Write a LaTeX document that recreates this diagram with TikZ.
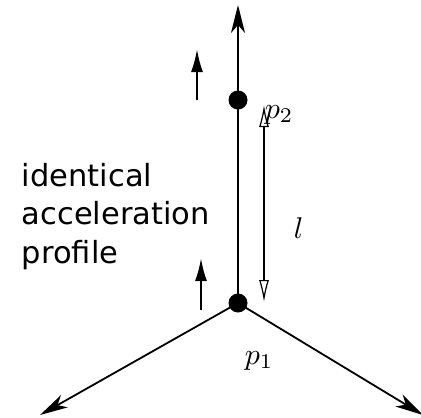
\documentclass[tikz,border=0pt]{standalone}
\usepackage{fontspec}
\setsansfont{DejaVu Sans}
\usetikzlibrary{
  calc,
  positioning,
  arrows.meta}

\newcommand{\biglab}[1]{\scalebox{3.0}{$#1$}}

\begin{document}
\begin{tikzpicture}[
  x=1pt,y=-1pt,
  line width=1.8pt,
  mass/.style={circle,fill,inner sep=0pt,minimum size=19pt},
  axis/.style={-{Stealth[length=28pt,width=14pt,inset=8pt]}},
  accel/.style={line width=2.3pt,-{Latex[length=23pt,width=12pt]}},
  dist/.style={line width=1.2pt,{Latex[open,length=22pt,width=10pt]}-{Latex[open,length=22pt,width=10pt]}},
  lab/.style={inner sep=0pt,anchor=base west}
]%
  \useasboundingbox (0,0) rectangle (421,418);

  % the two masses on the rod
  \node[mass] (p1) at (238,303) {};
  \node[mass] (p2) at (238,100) {};

  \coordinate (top) at (238,5);
  \coordinate (left) at (40,415);
  \coordinate (right) at (423,415);

  \draw (p1.center) -- (p2.center);
  \draw[axis] (p2.center) -- (top);
  \draw[axis] (p1.center) -- (left);
  \draw[axis] (p1.center) -- (right);

  % accelerations
  \coordinate (a2tail) at (197,100);
  \coordinate (a2tip) at (197,49);
  \coordinate (a1tail) at (201,310);
  \coordinate (a1tip) at (201,258);
  \draw[accel] (a2tail) -- (a2tip);
  \draw[accel] (a1tail) -- (a1tip);

  % distance between the masses
  \coordinate (dtop) at (264,105);
  \coordinate (dbot) at (264,302);
  \draw[dist] (dtop) -- (dbot);

  \node[lab] (lp2) at (264,118) {\biglab{p_2}};
  \node[lab] (lp1) at (244,364) {\biglab{p_1}};
  \node[lab] (ll) at (293,238) {\biglab{l}};
  \node[align=left,anchor=north west,inner sep=0pt,font=\sffamily\fontsize{30.5}{38.5}\selectfont]
    (txt) at (21,162) {identical\\acceleration\\profile};
\end{tikzpicture}
\end{document}
